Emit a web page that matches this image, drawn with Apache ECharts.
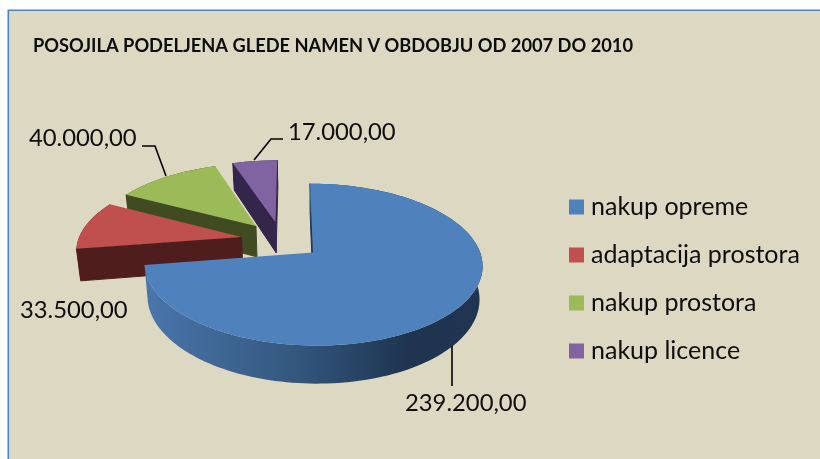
<!DOCTYPE html>
<html>
<head>
<meta charset="utf-8">
<title>Posojila</title>
<style>
  html, body { margin: 0; padding: 0; background: #fff; }
  #chart { width: 820px; height: 459px; }
</style>
<script src="https://cdn.jsdelivr.net/npm/echarts@6/dist/echarts.min.js"></script>
</head>
<body>
<div id="chart"></div>
<script>
// ===== Data =====
const TITLE = 'POSOJILA PODELJENA GLEDE NAMEN V OBDOBJU OD 2007 DO 2010';
const categories = ['nakup opreme', 'adaptacija prostora', 'nakup prostora', 'nakup licence'];
const values = [239200, 33500, 40000, 17000];

// ===== Styles =====
const COLOR_TEXT = '#0d0d0d';
const COLOR_BG = '#ddd8c2';
const COLOR_FRAME = '#4f81bd';
const FONT = 'Lato, "Noto Sans", sans-serif';
const topColors = ['#4f81bd', '#c0504d', '#9bbb59', '#8064a2'];
const wallColors = ['#1f3552', '#4f1e1c', '#404b22', '#33264a'];
const drawOrder = [4, 3, 2, 1]; // back slices first

// label text position + leader line, by category
const labelSpots = [
  { x: 405, y: 403, leader: [[452, 346], [452, 386]] },
  { x: 20,  y: 310, leader: null },
  { x: 29,  y: 138, leader: [[142, 146], [155, 146], [166, 176]] },
  { x: 288, y: 132, leader: [[283, 139], [271, 139], [254, 160]] },
];

// ===== Fake 3D pie =====
// tilted disc seen in perspective, all slices pulled out of a shared centre
const ORIGIN_X = 313, ORIGIN_Y = 252;
const RADIUS_X = 167, RADIUS_Y = 79;
const PERSPECTIVE = 0.148;
const SHEAR = 0.043;
const DEPTH = 32.4, DEPTH_SHRINK = 0.982;
const CENTRE_U = -0.19, CENTRE_V = -0.155;
const EXPLODE = 0.25;

const total = values.reduce((a, b) => a + b, 0);

function project(u, v, dropped) {
  const w = 1 - PERSPECTIVE * v;
  let x = RADIUS_X * u / w;
  let y = RADIUS_Y * v / w;
  x += SHEAR * y;
  if (dropped) { x *= DEPTH_SHRINK; y += DEPTH / w; }
  return [ORIGIN_X + x, ORIGIN_Y + y];
}

function formatValue(v) {
  return String(v).replace(/\B(?=(\d{3})+$)/g, '.') + ',00';
}

function startAngle(idx) {
  let acc = 0;
  for (let i = 0; i < idx; i++) acc += values[i];
  return acc / total * Math.PI * 2;
}

function renderSlice(idx, value) {
  const a0 = startAngle(idx);
  const a1 = a0 + value / total * Math.PI * 2;
  const mid = (a0 + a1) / 2;
  const apexU = CENTRE_U + EXPLODE * Math.sin(mid);
  const apexV = CENTRE_V - EXPLODE * Math.cos(mid);
  const rim = a => [apexU + Math.sin(a), apexV - Math.cos(a)];

  const arc = [];
  const steps = Math.ceil((a1 - a0) / 0.03);
  for (let i = 0; i <= steps; i++) arc.push(rim(a0 + (a1 - a0) * i / steps));

  const apexTop = project(apexU, apexV, false);
  const apexLow = project(apexU, apexV, true);
  const arcTop = arc.map(p => project(p[0], p[1], false));
  const arcLow = arc.map(p => project(p[0], p[1], true));
  const last = arc.length - 1;
  const midPt = project(...rim(mid), false);

  const wall = wallColors[idx];
  const children = [];
  // a cut wall only shows if it drops away from the slice's own top face
  const radial = (top, low) => {
    const ex = top[0] - apexTop[0], ey = top[1] - apexTop[1];
    const inner = ex * (midPt[1] - apexTop[1]) - ey * (midPt[0] - apexTop[0]);
    if (ex * inner > 0) return;
    children.push({
      type: 'polygon',
      shape: { points: [apexTop, top, low, apexLow] },
      style: { fill: wall, stroke: wall, lineWidth: 1 },
    });
  };
  radial(arcTop[0], arcLow[0]);
  radial(arcTop[last], arcLow[last]);

  // first slice has the shaded rim, the small ones only show flat walls
  const rimFill = idx === 0
    ? new echarts.graphic.LinearGradient(0, 0, 1, 0, [
        { offset: 0, color: '#4a76ab' },
        { offset: 0.45, color: '#33577e' },
        { offset: 0.78, color: '#1e3450' },
        { offset: 1, color: '#1f3552' },
      ])
    : wall;
  children.push({
    type: 'polygon',
    shape: { points: arcTop.concat(arcLow.slice().reverse()) },
    style: { fill: rimFill },
  });

  children.push({
    type: 'polygon',
    shape: { points: [apexTop].concat(arcTop) },
    style: { fill: topColors[idx] },
  });

  const spot = labelSpots[idx];
  if (spot.leader) {
    children.push({
      type: 'polyline',
      shape: { points: spot.leader },
      style: { fill: 'none', stroke: '#000', lineWidth: 1.6 },
    });
  }
  children.push({
    type: 'text',
    style: {
      text: formatValue(value), x: spot.x, y: spot.y,
      font: '23.8px ' + FONT, fill: COLOR_TEXT,
      align: 'left', verticalAlign: 'middle',
    },
  });
  return { type: 'group', children };
}

// ===== Chart =====
const chart = echarts.init(document.getElementById('chart'));
chart.setOption({
  animation: false,
  backgroundColor: '#ffffff',
  title: {
    text: TITLE, left: 33, top: 37, padding: 0,
    textStyle: { color: COLOR_TEXT, fontFamily: FONT, fontSize: 18.26, fontWeight: 'bold' },
  },
  legend: {
    orient: 'vertical', left: 569, top: 192, padding: 0,
    icon: 'rect', itemWidth: 15, itemHeight: 15, itemGap: 18,
    textStyle: { color: COLOR_TEXT, fontFamily: FONT, fontSize: 25, padding: [0, 0, 0, 2], lineHeight: 30 },
    selectedMode: false,
    data: categories,
  },
  graphic: [{
    type: 'rect', z: -10,
    shape: { x: 8.3, y: 10.3, width: 840, height: 480 },
    style: { fill: COLOR_BG, stroke: COLOR_FRAME, lineWidth: 1.6 },
  }],
  series: categories.map((name, i) => ({
    name,
    type: 'custom',
    coordinateSystem: 'none',
    z: drawOrder[i],
    silent: true,
    itemStyle: { color: topColors[i] },
    data: [[values[i]]],
    renderItem: (params, api) => renderSlice(i, api.value(0)),
  })),
});
</script>
</body>
</html>
